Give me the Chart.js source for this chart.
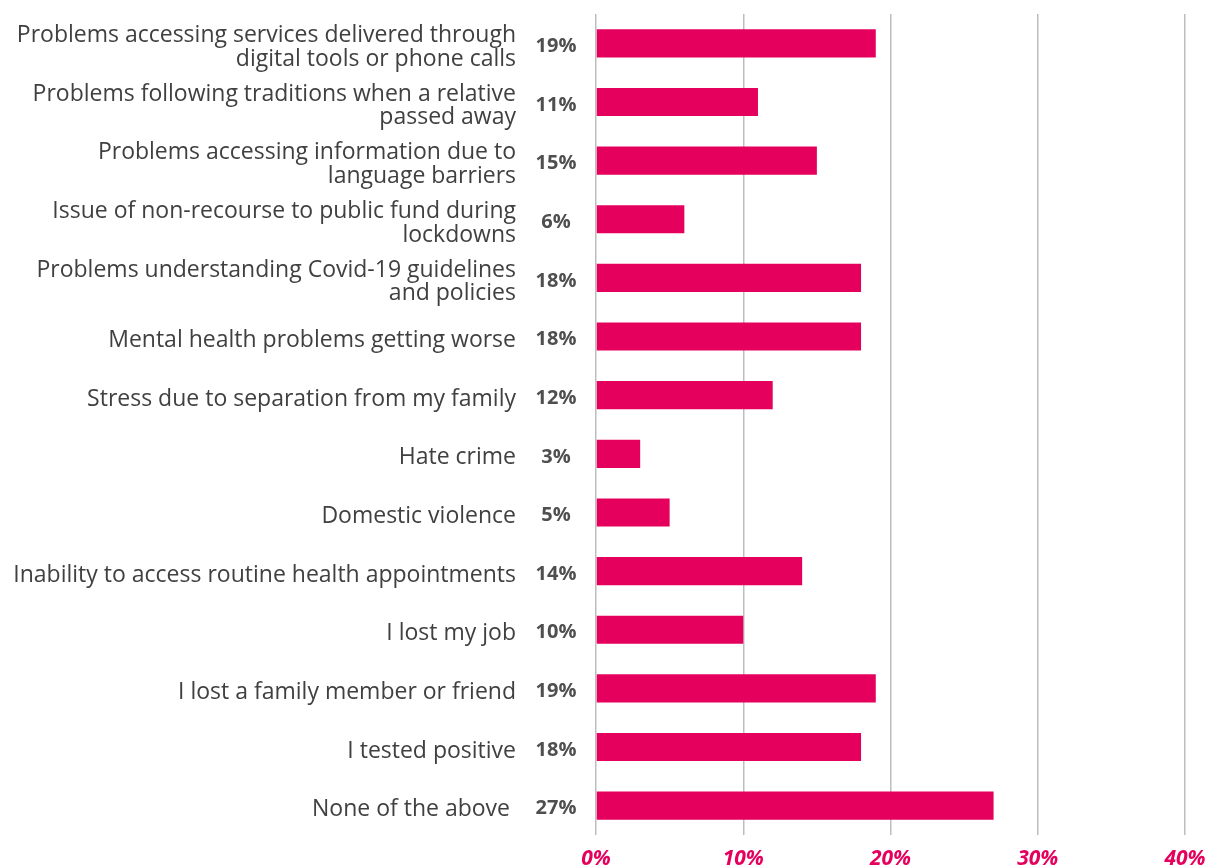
<!DOCTYPE html>
<html>
<head>
<meta charset="utf-8">
<script src="https://cdn.jsdelivr.net/npm/chart.js@4"></script>
<style>
  html, body { margin: 0; padding: 0; background: #ffffff; }
  #wrap { width: 1205px; height: 868px; }
</style>
</head>
<body>
<div id="wrap"><canvas id="chart" width="1205" height="868"></canvas></div>
<script>
// Impacts reported during the Covid-19 period (% of respondents)
const categories = [
  ["Problems accessing services delivered through", "digital tools or phone calls"],
  ["Problems following traditions when a relative", "passed away"],
  ["Problems accessing information due to", "language barriers"],
  ["Issue of non-recourse to public fund during", "lockdowns"],
  ["Problems understanding Covid-19 guidelines", "and policies"],
  "Mental health problems getting worse",
  "Stress due to separation from my family",
  "Hate crime",
  "Domestic violence",
  "Inability to access routine health appointments",
  "I lost my job",
  "I lost a family member or friend",
  "I tested positive",
  "None of the above "
];
const percentages = [19, 11, 15, 6, 18, 18, 12, 3, 5, 14, 10, 19, 18, 27];
const tickValues = [0, 10, 20, 30, 40];

const PINK = '#E5005D';
const FONT = "'Open Sans', 'Noto Sans', sans-serif";

// Bold percentage shown between each category label and its bar
const valueLabels = {
  id: 'valueLabels',
  afterDatasetsDraw(chart) {
    const { ctx, chartArea, scales } = chart;
    ctx.save();
    ctx.font = "bold 20px " + FONT;
    ctx.fillStyle = '#4f4f4f';
    ctx.textAlign = 'center';
    ctx.textBaseline = 'middle';
    percentages.forEach((v, i) => {
      ctx.fillText(v + '%', chartArea.left - 40, scales.y.getPixelForValue(i) + 3);
    });
    ctx.restore();
  }
};

new Chart(document.getElementById('chart'), {
  type: 'bar',
  data: {
    labels: categories,
    datasets: [{
      data: percentages,
      backgroundColor: PINK,
      borderWidth: 0,
      barPercentage: 0.48,
      categoryPercentage: 1
    }]
  },
  options: {
    indexAxis: 'y',
    responsive: false,
    animation: false,
    layout: { padding: { left: 10, right: 20, top: 14, bottom: 0 } },
    plugins: {
      legend: { display: false },
      tooltip: { enabled: false }
    },
    scales: {
      x: {
        min: 0,
        max: 40,
        afterBuildTicks(scale) { scale.ticks = tickValues.map(v => ({ value: v })); },
        afterFit(scale) {
          scale.height = 33;
          scale.paddingLeft = 0;
          scale.paddingRight = 0;
        },
        border: { display: false },
        grid: { color: '#bdbdbd', lineWidth: 1.5, drawTicks: false },
        ticks: {
          padding: 14,
          color: PINK,
          font: { family: FONT, size: 21, style: 'italic', weight: 'bold', lineHeight: 1 },
          callback: v => v + '%'
        }
      },
      y: {
        afterFit(scale) {
          scale.width = 586;
          scale.paddingTop = 0;
          scale.paddingBottom = 0;
        },
        border: { display: false },
        grid: { display: false, drawTicks: false },
        ticks: {
          padding: 80,
          labelOffset: 4,
          color: '#404040',
          font: { family: FONT, size: 23, lineHeight: 1.02 },
          autoSkip: false
        }
      }
    }
  },
  plugins: [valueLabels]
});
</script>
</body>
</html>
